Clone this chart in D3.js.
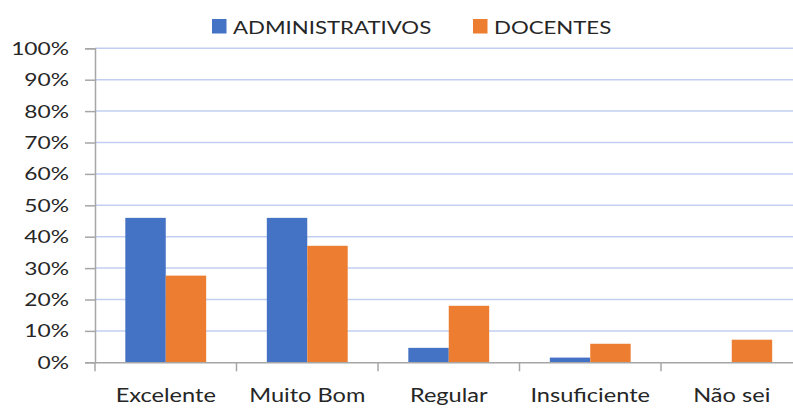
<!DOCTYPE html>
<html>
<head>
<meta charset="utf-8">
<script src="https://cdn.jsdelivr.net/npm/d3@7"></script>
<style>
  body { margin: 0; background: #fff; }
  svg { display: block; font-family: Lato, 'Open Sans', sans-serif; }
</style>
</head>
<body>
<script>
var WIDTH = 793, HEIGHT = 408;

var categories = ['Excelente', 'Muito Bom', 'Regular', 'Insuficiente', 'Não sei'];
var seriesNames = ['ADMINISTRATIVOS', 'DOCENTES'];
var administrativos = [0.46, 0.46, 0.046, 0.015, 0];
var docentes = [0.276, 0.371, 0.18, 0.059, 0.072];
var yTicks = [0, 0.1, 0.2, 0.3, 0.4, 0.5, 0.6, 0.7, 0.8, 0.9, 1];
var colors = ['#4472c4', '#ed7d31'];

var X_LEFT = 95, X_RIGHT = 802.5, Y_BOTTOM = 362.3, Y_TOP = 48.3;
var STRETCH = 1.38;

var svg = d3.select('body').append('svg').attr('width', WIDTH).attr('height', HEIGHT);

var x = d3.scaleBand().domain(categories).range([X_LEFT, X_RIGHT]).padding(0);
var xInner = d3.scaleBand().domain(seriesNames).range([0, x.bandwidth()])
    .paddingInner(0).paddingOuter(0.75);
var y = d3.scaleLinear().domain([0, 1]).range([Y_BOTTOM, Y_TOP]);

// gridlines
svg.append('g').selectAll('line')
    .data(yTicks.slice(1))
    .enter().append('line')
    .attr('x1', X_LEFT).attr('x2', WIDTH)
    .attr('y1', d => y(d)).attr('y2', d => y(d))
    .attr('stroke', '#c3cff2').attr('stroke-width', 1.5);

// bars
var rows = categories.map((c, i) => ({ cat: c, vals: [administrativos[i], docentes[i]] }));
var groups = svg.append('g').selectAll('g')
    .data(rows).enter().append('g')
    .attr('transform', d => 'translate(' + x(d.cat) + ',0)');
groups.selectAll('rect')
    .data(d => d.vals.map((v, j) => ({ s: seriesNames[j], v: v, j: j })))
    .enter().append('rect')
    .attr('x', d => xInner(d.s))
    .attr('width', xInner.bandwidth())
    .attr('y', d => y(d.v))
    .attr('height', d => Y_BOTTOM - y(d.v))
    .attr('fill', d => colors[d.j]);

// y axis
var yAxis = svg.append('g')
    .attr('transform', 'translate(' + X_LEFT + ',0)')
    .call(d3.axisLeft(y).tickValues(yTicks).tickSize(10).tickPadding(0).tickFormat(d3.format('.0%')));
yAxis.select('.domain').attr('stroke', '#a6a6a6').attr('stroke-width', 1.5);
yAxis.selectAll('.tick line').attr('stroke', '#a6a6a6').attr('stroke-width', 1.5);
yAxis.selectAll('.tick text')
    .attr('x', null).attr('dy', null)
    .attr('transform', 'translate(-26,6) scale(' + STRETCH + ',1)')
    .attr('font-size', 16.5).attr('fill', '#262626')
    .attr('font-family', 'Lato, sans-serif');

// x axis
var xAxis = svg.append('g')
    .attr('transform', 'translate(0,' + Y_BOTTOM + ')')
    .call(d3.axisBottom(x).tickSize(0).tickPadding(0));
xAxis.select('.domain').attr('stroke', '#a6a6a6').attr('stroke-width', 1.5);
xAxis.selectAll('.tick text')
    .attr('y', null).attr('dy', null)
    .attr('transform', 'translate(0,40) scale(' + STRETCH * 0.9 + ',1)')
    .attr('font-size', 19).attr('fill', '#262626')
    .attr('font-family', 'Lato, sans-serif');
// category separators
svg.append('g').selectAll('line')
    .data(categories)
    .enter().append('line')
    .attr('x1', d => x(d)).attr('x2', d => x(d))
    .attr('y1', Y_BOTTOM).attr('y2', Y_BOTTOM + 9)
    .attr('stroke', '#a6a6a6').attr('stroke-width', 1.5);

// legend
var legendX = [212, 473];
var legend = svg.append('g').selectAll('g')
    .data(seriesNames).enter().append('g')
    .attr('transform', (d, i) => 'translate(' + legendX[i] + ',19)');
legend.append('rect')
    .attr('width', 14.5).attr('height', 14.5)
    .attr('fill', (d, i) => colors[i]);
legend.append('text')
    .attr('transform', 'translate(21,15) scale(' + STRETCH * 0.92 + ',1)')
    .attr('font-size', 17.5).attr('fill', '#262626')
    .text(d => d);
</script>
</body>
</html>
